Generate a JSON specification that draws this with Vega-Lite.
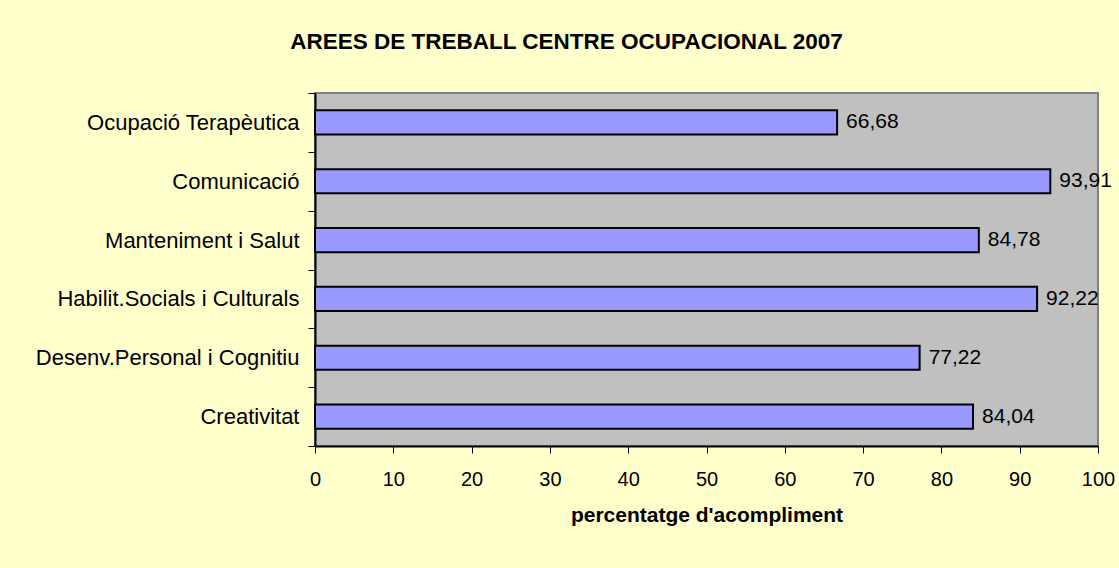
{
  "$schema": "https://vega.github.io/schema/vega-lite/v6.json",
  "autosize": "none",
  "width": 783,
  "height": 353,
  "padding": {"left": 315, "top": 93, "right": 21, "bottom": 122},
  "background": "#FFFFCC",
  "title": {
    "text": "AREES DE TREBALL CENTRE OCUPACIONAL 2007",
    "font": "Liberation Sans",
    "fontSize": 22.5,
    "fontWeight": "bold",
    "color": "#000000",
    "anchor": "middle",
    "dx": -140,
    "offset": 29
  },
  "data": {
    "values": [
      {"area": "Ocupació Terapèutica", "value": 66.68},
      {"area": "Comunicació", "value": 93.91},
      {"area": "Manteniment i Salut", "value": 84.78},
      {"area": "Habilit.Socials i Culturals", "value": 92.22},
      {"area": "Desenv.Personal i Cognitiu", "value": 77.22},
      {"area": "Creativitat", "value": 84.04}
    ]
  },
  "encoding": {
    "y": {
      "field": "area",
      "type": "nominal",
      "sort": null,
      "scale": {"paddingInner": 0, "paddingOuter": 0},
      "axis": {
        "title": null,
        "tickBand": "extent",
        "tickSize": 7,
        "tickColor": "#000000",
        "tickWidth": 1,
        "domainColor": "#000000",
        "domainWidth": 2,
        "labelPadding": 9,
        "labelFont": "Liberation Sans",
        "labelFontSize": 22,
        "labelColor": "#000000",
        "labelLimit": 400
      }
    },
    "x": {
      "field": "value",
      "type": "quantitative",
      "scale": {"domain": [0, 100], "nice": false},
      "axis": {
        "title": "percentatge d'acompliment",
        "values": [0, 10, 20, 30, 40, 50, 60, 70, 80, 90, 100],
        "format": "d",
        "grid": false,
        "tickSize": 7,
        "tickColor": "#000000",
        "tickWidth": 1,
        "domainColor": "#000000",
        "domainWidth": 2,
        "labelPadding": 16,
        "labelFont": "Liberation Sans",
        "labelFontSize": 20,
        "labelColor": "#000000",
        "labelFlush": false,
        "titleFont": "Liberation Sans",
        "titleFontSize": 21,
        "titleFontWeight": "bold",
        "titleColor": "#000000",
        "titlePadding": 15
      }
    }
  },
  "layer": [
    {
      "mark": {
        "type": "bar",
        "height": {"band": 0.41},
        "fill": "#9999FF",
        "stroke": "#000000",
        "strokeWidth": 2
      }
    },
    {
      "mark": {
        "type": "text",
        "align": "left",
        "baseline": "middle",
        "dx": 9,
        "font": "Liberation Sans",
        "fontSize": 21,
        "color": "#000000"
      },
      "encoding": {
        "text": {"field": "value", "type": "quantitative", "format": ".2f"}
      }
    }
  ],
  "config": {
    "locale": {
      "number": {"decimal": ",", "thousands": ".", "grouping": [3], "currency": ["", " €"]}
    },
    "view": {"fill": "#C0C0C0", "stroke": "#808080", "strokeWidth": 2}
  }
}
